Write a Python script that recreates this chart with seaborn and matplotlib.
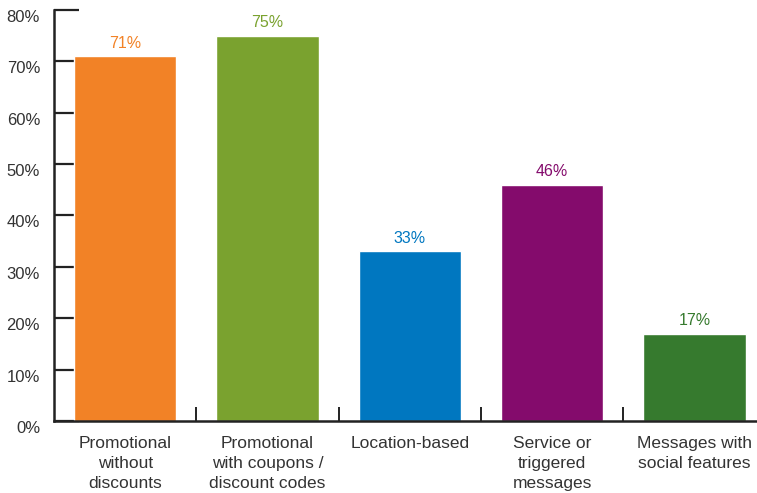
import matplotlib
matplotlib.use("Agg")
import matplotlib.pyplot as plt
import matplotlib.transforms as mtransforms
import seaborn as sns
import pandas as pd

categories = ["Promotional\nwithout\ndiscounts",
              "Promotional\nwith coupons /\ndiscount codes",
              "Location-based",
              "Service or\ntriggered\nmessages",
              "Messages with\nsocial features"]
values = [71, 75, 33, 46, 17]
colors = ["#F28226", "#7AA22F", "#0077C0", "#840B6C", "#367A2E"]
yticks = [0, 10, 20, 30, 40, 50, 60, 70, 80]

sns.set_style("white")
plt.rcParams["font.family"] = ["Liberation Sans", "DejaVu Sans"]

df = pd.DataFrame({"cat": categories, "val": values})

fig = plt.figure(figsize=(7.57, 4.93), dpi=100)
ax = fig.add_axes([0.0713, 0.146, 0.9287, 0.834])

sns.barplot(data=df, x="cat", y="val", hue="cat", palette=colors,
            legend=False, width=0.72, saturation=1, ax=ax)

for cont, col in zip(ax.containers, colors):
    ax.bar_label(cont, labels=[f"{int(v)}%" for v in cont.datavalues],
                 padding=4, color=col, fontsize=11.5)

ax.set_xlim(-0.5, 4.44)
ax.set_ylim(0, 80)
ax.set_yticks(yticks)
ax.set_yticklabels([f"{t}%" for t in yticks], fontsize=12, color="#333333")
ax.set_xticks(range(len(categories)))
ax.set_xticklabels(categories, fontsize=12.5, color="#333333", linespacing=1.4)
ax.set_xticks([0.5, 1.5, 2.5, 3.5], minor=True)
ax.set_xlabel("")
ax.set_ylabel("")

ax.tick_params(axis="y", left=True, direction="in", length=18, width=1.6,
               color="#222222", pad=10)
ax.tick_params(axis="x", which="major", bottom=False, length=0, pad=11)
ax.tick_params(axis="x", which="minor", bottom=True, direction="in", length=10,
               width=1.4, color="#222222")

# y labels sit a bit below their ticks
offset = mtransforms.ScaledTranslation(0, -6 / 100, fig.dpi_scale_trans)
for lab in ax.get_yticklabels():
    lab.set_transform(lab.get_transform() + offset)

for s in ["top", "right"]:
    ax.spines[s].set_visible(False)
for s in ["left", "bottom"]:
    ax.spines[s].set_color("#222222")
    ax.spines[s].set_linewidth(1.8)

fig.savefig("out.png", dpi=100)
